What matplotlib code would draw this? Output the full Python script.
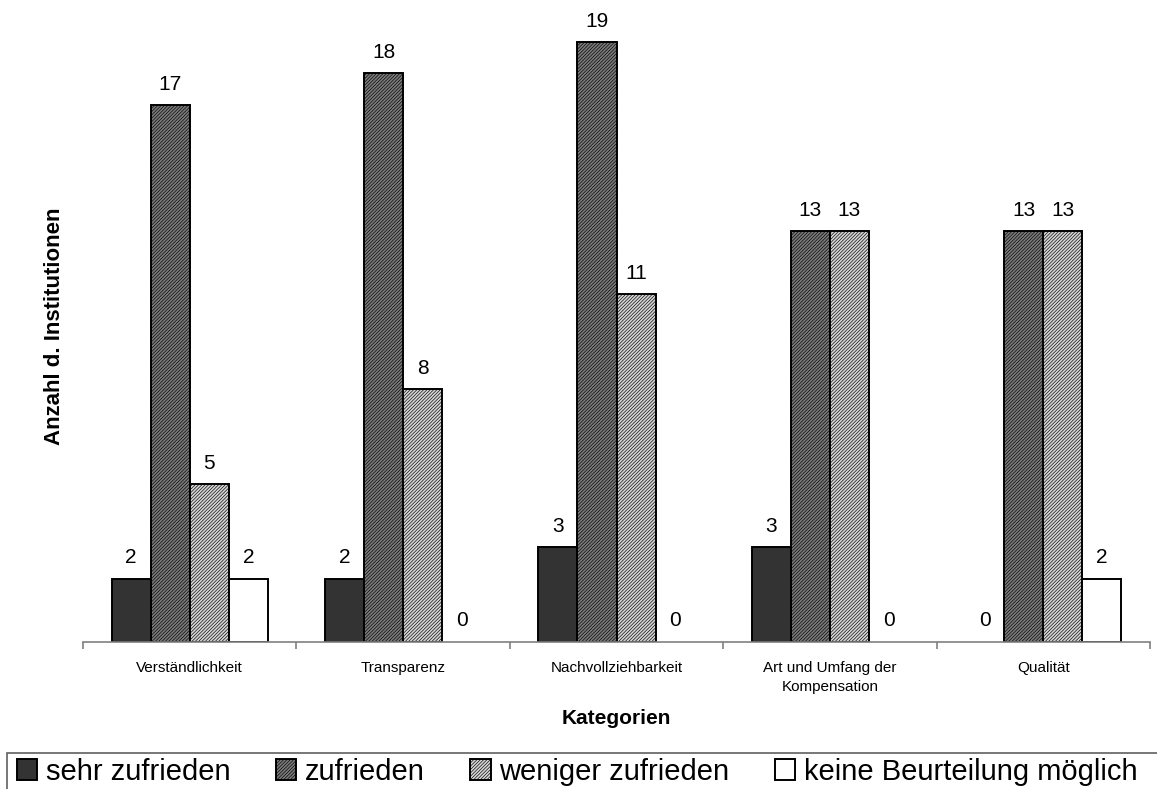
import numpy as np
import matplotlib.pyplot as plt
from matplotlib.patches import Rectangle

plt.rcParams['font.family'] = ['Liberation Sans', 'DejaVu Sans']
plt.rcParams['hatch.linewidth'] = 0.45

kategorien = ['Verständlichkeit', 'Transparenz', 'Nachvollziehbarkeit',
              'Art und Umfang der\nKompensation', 'Qualität']
sehr_zufrieden = [2, 2, 3, 3, 0]
zufrieden = [17, 18, 19, 13, 13]
weniger_zufrieden = [5, 8, 11, 13, 13]
keine_beurteilung = [2, 0, 0, 0, 2]

serien = [
    ('sehr zufrieden', sehr_zufrieden, '#333333', None),
    ('zufrieden', zufrieden, '#7a7a7a', '//////////'),
    ('weniger zufrieden', weniger_zufrieden, '#d4d4d4', '//////////'),
    ('keine Beurteilung möglich', keine_beurteilung, 'white', None),
]

fig = plt.figure(figsize=(11.57, 7.89), dpi=100)
ax = fig.add_axes([0.0717, 0.1867, 0.9223, 0.8003])

x = np.arange(len(kategorien))
w = 0.183
handles = []
for i, (name, werte, farbe, muster) in enumerate(serien):
    pos = x + (i - 1.5) * w
    bars = ax.bar(pos, werte, w, color=farbe, edgecolor='black', linewidth=1.4,
                  hatch=muster, label=name)
    handles.append(bars)
    for rect, xp, v in zip(bars, pos, werte):
        # Balken mit Wert 0 nicht als Linie auf der Achse zeichnen
        if v == 0:
            rect.set_visible(False)
        ax.annotate(str(v), (xp, v), xytext=(0, 11), textcoords='offset points',
                    ha='center', va='baseline', fontsize=15)

ax.set_xlim(-0.5, 4.5)
ax.set_ylim(0, 20)
ax.set_yticks([])
for s in ['top', 'right', 'left']:
    ax.spines[s].set_visible(False)
ax.spines['bottom'].set_color('#808080')
ax.spines['bottom'].set_linewidth(1.2)

ax.set_xticks(x)
ax.set_xticklabels(kategorien, fontsize=11, linespacing=1.45)
ax.tick_params(axis='x', which='major', length=0, pad=14)
ax.set_xticks(np.arange(-0.5, 5.0, 1.0), minor=True)
ax.tick_params(axis='x', which='minor', length=5, color='#808080', width=1.2)

fig.text(616 / 1157, 1 - 719 / 789, 'Kategorien', fontsize=15,
         fontweight='bold', ha='center', va='center')
fig.text(55 / 1157, 1 - 326 / 789, 'Anzahl d. Institutionen', rotation=90,
         fontsize=16, fontweight='bold', ha='center', va='center')

# Rahmen der Legende am unteren Rand
fig.add_artist(Rectangle((0.006, -0.05), 1.2, 0.096, transform=fig.transFigure,
                         facecolor='white', edgecolor='#606060', linewidth=1.2))
fig.legend(handles=handles, loc='center left', bbox_to_anchor=(0.002, 0.022),
           ncol=4, frameon=False, fontsize=21, handlelength=0.7, handleheight=0.7,
           handletextpad=0.3, columnspacing=1.55, borderpad=0.0)

fig.savefig('out.png', dpi=100)
